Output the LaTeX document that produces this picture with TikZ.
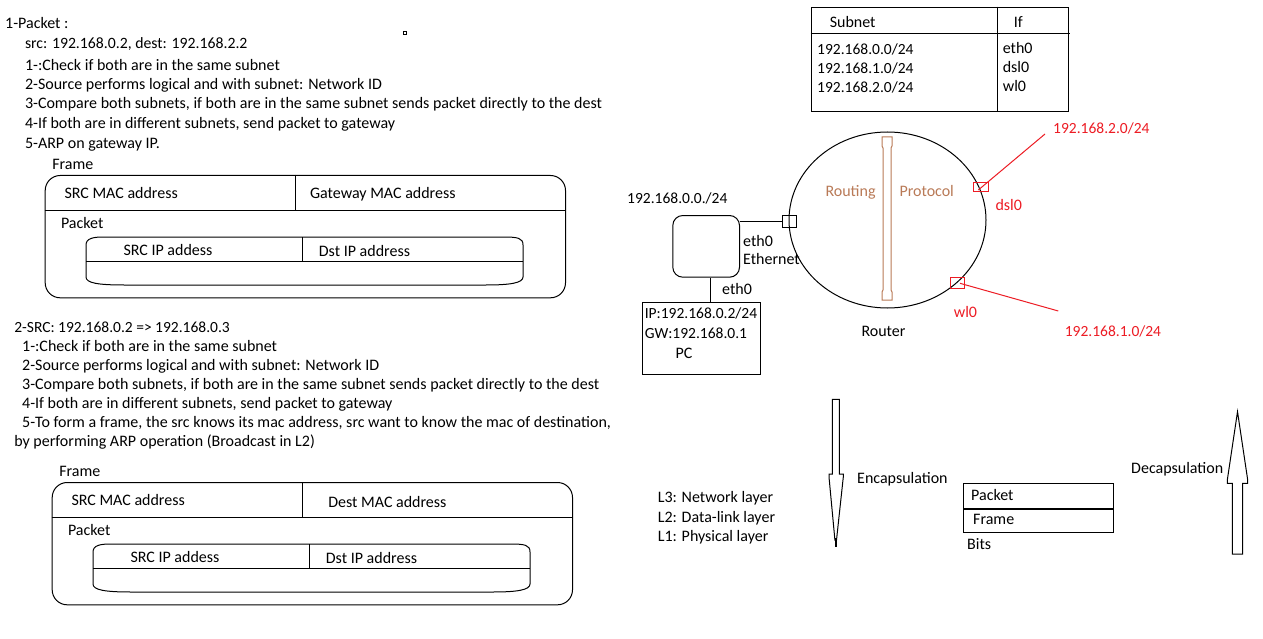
\documentclass[tikz,border=0pt]{standalone}
\usepackage{fontspec}
\setmainfont{Carlito}
\usetikzlibrary{calc,shapes.geometric}
\definecolor{pred}{HTML}{ED1C24}
\definecolor{pbrown}{HTML}{B97A57}
\newcommand\pktframe[4]{%
  \node[txt] (fl#1) at (51.8,169.5) {Frame};
  \node[boxs, rounded corners=15pt, minimum width=520.3pt, minimum height=122.3pt] (fr#1) at (44.7,175) {};
  \draw (44.7,210.7) -- (565,210.7);
  \draw (295.6,175) -- (295.6,210.7);
  \node[txt] (sm#1) at (64,198.8) {SRC MAC address};
  \node[txt] (dm#1) at (#3,#4) {#2};
  \node[txt] (pk#1) at (60.5,228.8) {Packet};
  \draw (86,245) .. controls (86,238) and (94,237) .. (104,237) -- (503,237)
        .. controls (518,237) and (523,238) .. (523,245) -- (523,277)
        .. controls (523,283) and (510,285) .. (486,285) -- (124,285)
        .. controls (98,285) and (86,283) .. (86,277) -- cycle;
  \draw (86,261.7) -- (523,261.7);
  \draw (302.6,237) -- (302.6,261.7);
  \node[txt] (si#1) at (123,255.5) {SRC IP addess};
  \node[txt] (di#1) at (318.4,256) {Dst IP address};
}
\begin{document}
\begin{tikzpicture}[x=1pt,y=-1pt,line width=1pt,
  txt/.style={inner sep=0pt,anchor=base west,font=\fontsize{16}{19}\selectfont},
  num/.style={txt,font=\fontsize{15.5}{18}\selectfont},
  rtxt/.style={num,text=pred},
  boxs/.style={draw,inner sep=0pt,anchor=north west},
  port/.style={draw,inner sep=0pt}]
\useasboundingbox[fill=white] (0,0) rectangle (1263,639);

% ---- text block 1
\node[txt] (a0) at (4.7,28.8) {1-Packet :};
\node[txt,font=\fontsize{15.75}{19}\selectfont] (a1) at (24.5,48.2) {src: 192.168.0.2, dest: 192.168.2.2};
\node[txt] (a2) at (24.5,70.5) {1-:Check if both are in the same subnet};
\node[txt] (a3) at (24.5,89.8) {2-Source performs logical and with subnet: Network ID};
\node[txt] (a4) at (24.5,108.8) {3-Compare both subnets, if both are in the same subnet sends packet directly to the dest};
\node[txt] (a5) at (24.5,128.2) {4-If both are in different subnets, send packet to gateway};
\node[txt] (a6) at (24.5,148.2) {5-ARP on gateway IP.};
\draw[line width=0.8pt] (403,31) rectangle (406,34);

% ---- frame 1
\pktframe{A}{Gateway MAC address}{309.6}{198.8}

% ---- text block 2
\node[num] (b0) at (13.8,332.2) {2-SRC: 192.168.0.2 => 192.168.0.3};
\node[txt] (b1) at (21.7,351.5) {1-:Check if both are in the same subnet};
\node[txt] (b2) at (21.7,370.5) {2-Source performs logical and with subnet: Network ID};
\node[txt] (b3) at (21.7,389.5) {3-Compare both subnets, if both are in the same subnet sends packet directly to the dest};
\node[txt] (b4) at (21.7,408.8) {4-If both are in different subnets, send packet to gateway};
\node[txt] (b5) at (21.7,427.8) {5-To form a frame, the src knows its mac address, src want to know the mac of destination,};
\node[txt] (b6) at (13.8,446.5) {by performing ARP operation (Broadcast in L2)};

% ---- frame 2
\begin{scope}[shift={(7,307)}]
\pktframe{B}{Dest MAC address}{320.8}{200.8}
\end{scope}

% ---- routing table
\node[boxs, minimum width=257.6pt, minimum height=104pt] (tbl) at (810.7,6.7) {};
\draw (810.7,34) -- (1070,34);
\draw (997.7,6.7) -- (997.7,110.7);
\node[txt] (th1) at (829.3,27.2) {Subnet};
\node[txt] (th2) at (1013.3,27.2) {If};
\node[num] (r1) at (816.7,54.8) {192.168.0.0/24};
\node[num] (r2) at (816.7,73.8) {192.168.1.0/24};
\node[num] (r3) at (816.7,92.8) {192.168.2.0/24};
\node[txt] (i1) at (1002.3,53.2) {eth0};
\node[txt] (i2) at (1002.3,72.2) {dsl0};
\node[txt] (i3) at (1002.3,91.2) {wl0};

% ---- router
\node[draw,ellipse,inner sep=0pt,minimum width=197pt,minimum height=176pt] (router) at (887.5,220) {};
\draw[pbrown] (882,137) -- (892,137) -- (892,146) -- (891,148) -- (891,290) -- (892,292) -- (892,300)
  -- (882,300) -- (882,292) -- (883,290) -- (883,148) -- (882,146) -- cycle;
\node[txt,text=pbrown] (rt) at (825,196.5) {Routing};
\node[txt,text=pbrown] (pt) at (899,196.5) {Protocol};
\node[txt] (rl) at (861,336.5) {Router};

\node[port,minimum width=14pt,minimum height=12pt] (p0) at (789,221) {};
\node[port,draw=pred,minimum width=15pt,minimum height=9pt] (pd) at (980.5,187.5) {};
\node[port,draw=pred,minimum width=14pt,minimum height=11pt] (pw) at (957,282.5) {};
\coordinate (nd) at (1045,134);
\coordinate (nw) at (1058.3,311);
\draw[pred] ($(pd.center)+(-2.2,2.5)$) -- (nd);
\draw[pred] ($(pw.center)+(3,0.8)$) -- (nw);
\node[txt,text=pred] (ld) at (995,210.5) {dsl0};
\node[txt,text=pred] (lw) at (953.3,317.2) {wl0};
\node[rtxt] (n2) at (1052.7,133.8) {192.168.2.0/24};
\node[rtxt] (n1) at (1064.3,336.2) {192.168.1.0/24};

% ---- switch + PC
\node[boxs,rounded corners=10pt,minimum width=66.7pt,minimum height=61.7pt] (sw) at (672.3,215) {};
\node[num] (net) at (626.7,203.5) {192.168.0.0./24};
\draw (p0.west) -- (p0.west -| sw.east);
\node[txt] (e1) at (742.7,246.2) {eth0};
\node[txt] (e2) at (742.7,264.5) {Ethernet};
\node[boxs,minimum width=117.7pt,minimum height=72.6pt] (pc) at (642.3,301.7) {};
\coordinate (cx) at (710.3,290);
\draw (sw.south -| cx) -- (pc.north -| cx);
\node[txt] (e3) at (721.7,294.5) {eth0};
\node[num] (ip) at (644.3,318.8) {IP:192.168.0.2/24};
\node[num] (gw) at (644.3,338.8) {GW:192.168.0.1};
\node[txt] (pcl) at (675,358.5) {PC};

% ---- layers
\node[txt] (l3) at (657.3,502.8) {L3: Network layer};
\node[txt] (l2) at (657.3,522.2) {L2: Data-link layer};
\node[txt] (l1) at (657.3,541.2) {L1: Physical layer};

\draw (832.3,399.3) -- (839.3,399.3) -- (839.3,474) -- (843.3,474) -- (843.3,477) -- (836.5,540)
  -- (834.9,540) -- (829,477) -- (829,474) -- (832.3,474) -- cycle;
\draw[line width=2pt] (835.7,538) -- (835.7,547);
\node[txt] (enc) at (856.7,483.8) {Encapsulation};

\node[boxs,minimum width=150pt,minimum height=49pt] (pf) at (963.3,483.3) {};
\draw[line width=2pt] (pf.west |- 0,509.3) -- (pf.east |- 0,509.3);
\node[txt] (pk) at (970.7,500.5) {Packet};
\node[txt] (fm) at (972.7,524.5) {Frame};
\node[txt] (bt) at (966.7,549.5) {Bits};

\draw (1232.3,554) -- (1242.7,554) -- (1242.7,483.3) -- (1247.7,483.3) -- (1247.7,480) -- (1237.5,411.7)
  -- (1227.3,480) -- (1227.3,483.3) -- (1232.3,483.3) -- cycle;
\node[txt] (dec) at (1130.7,473.8) {Decapsulation};
\end{tikzpicture}
\end{document}
